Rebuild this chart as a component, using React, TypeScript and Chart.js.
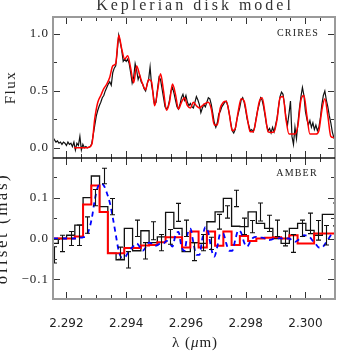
import React, { useEffect, useRef } from 'react';
import { Chart, registerables } from 'chart.js';

Chart.register(...registerables);

// ---------- axis limits / ticks ----------
const LAMBDA_MIN = 2.29155;
const LAMBDA_MAX = 2.30099;
const X_MAJOR = [2.292, 2.294, 2.296, 2.298, 2.3];
const X_MINOR_STEP = 0.0005;
const TOP_MIN = -0.09;
const TOP_MAX = 1.15;
const TOP_TICKS = [0, 0.25, 0.5, 0.75, 1.0];
const TOP_LABELS = ['0.0', '0.5', '1.0'];
const BOT_MIN = -0.148;
const BOT_MAX = 0.197;
const BOT_TICKS = [-0.1, -0.05, 0, 0.05, 0.1, 0.15];
const BOT_LABELS = ['\u22120.1', '0.0', '0.1'];

// ---------- CRIRES spectrum (observed, black) ----------
const OBS_START = 2.29155;
const OBS_STEP = 0.00005;
const CRIRES_OBS = [
  0.09, 0.07, 0.05, 0.06, 0.04, 0.05, 0.03, 0.05, 0.04, 0.02,
  0.05, 0.03, 0.04, 0.01, 0.05, -0.02, 0.04, 0.02, 0.10, -0.02,
  0.03, 0.00, 0.01, 0.00, 0.005, 0.01, 0.04, 0.12, 0.20, 0.28,
  0.33, 0.37, 0.40, 0.44, 0.46, 0.50, 0.53, 0.56, 0.58, 0.55,
  0.66, 0.70, 0.72, 0.85, 0.99, 0.93, 0.86, 0.76, 0.78, 0.76,
  0.78, 0.74, 0.66, 0.57, 0.62, 0.74, 0.68, 0.60, 0.64, 0.58,
  0.56, 0.52, 0.50, 0.56, 0.60, 0.71, 0.55, 0.48, 0.38, 0.40,
  0.52, 0.62, 0.60, 0.52, 0.44, 0.36, 0.34, 0.36, 0.42, 0.50,
  0.53, 0.48, 0.42, 0.36, 0.34, 0.38, 0.44, 0.47, 0.42, 0.46,
  0.40, 0.37, 0.39, 0.36, 0.35, 0.40, 0.45, 0.42, 0.38, 0.31,
  0.35, 0.38, 0.36, 0.40, 0.44, 0.43, 0.38, 0.30, 0.22, 0.18,
  0.22, 0.30, 0.32, 0.36, 0.38, 0.40, 0.41, 0.37, 0.30, 0.22,
  0.15, 0.13, 0.16, 0.24, 0.30, 0.35, 0.42, 0.44, 0.40, 0.33,
  0.25, 0.20, 0.15, 0.16, 0.14, 0.18, 0.26, 0.33, 0.38, 0.44,
  0.42, 0.36, 0.28, 0.20, 0.15, 0.17, 0.13, 0.18, 0.14, 0.20,
  0.26, 0.36, 0.45, 0.49, 0.47, 0.38, 0.26, 0.20, 0.30, 0.41,
  0.10, 0.03, 0.18, 0.08, 0.22, 0.35, 0.45, 0.53, 0.46, 0.32,
  0.25, 0.20, 0.24, 0.18, 0.22, 0.16, 0.20, 0.15, 0.18, 0.26,
  0.38, 0.46, 0.50, 0.42, 0.36, 0.28, 0.22, 0.14, 0.09, 0.12,
];

// ---------- CRIRES model (red) ----------
const MOD_START = 2.29225;
const MOD_STEP = 0.0001;
const CRIRES_MODEL = [
  0.0, 0.0, 0.0, 0.0, 0.0, 0.005, 0.03, 0.26, 0.40, 0.46,
  0.52, 0.56, 0.62, 0.72, 0.74, 0.99, 0.87, 0.78, 0.81, 0.70,
  0.57, 0.72, 0.64, 0.56, 0.51, 0.60, 0.58, 0.37, 0.50, 0.65,
  0.50, 0.33, 0.40, 0.56, 0.47, 0.34, 0.40, 0.44, 0.37, 0.35,
  0.40, 0.37, 0.35, 0.37, 0.39, 0.40, 0.34, 0.20, 0.20, 0.35,
  0.40, 0.41, 0.30, 0.15, 0.17, 0.32, 0.43, 0.41, 0.27, 0.14,
  0.14, 0.25, 0.40, 0.44, 0.30, 0.14, 0.135, 0.14, 0.25, 0.44,
  0.45, 0.25, 0.12, 0.12, 0.12, 0.20, 0.42, 0.46, 0.28, 0.12,
  0.12, 0.12, 0.15, 0.33, 0.43, 0.28, 0.10, 0.09,
];

// ---------- AMBER photocentre offsets (binned, black histogram) ----------
const BIN_START = 2.29159; // centre of first bin
const BIN_WIDTH = 0.0002762;
const AMBER_OBS = [
  -0.040, -0.012, 0.000, 0.008, 0.033, 0.100, 0.153, 0.078, -0.036, -0.052,
  0.025, -0.030, 0.019, -0.010, 0.004, 0.064, 0.025, -0.032, -0.010, -0.012,
  0.041, 0.065, 0.098, 0.030, 0.029, 0.065, 0.037, 0.025, 0.000, -0.012,
  0.025, 0.037, 0.020, 0.008, 0.059,
];
const AMBER_ERR = [
  0.020, 0.020, 0.017, 0.025, 0.020, 0.020, 0.019, 0.020, 0.015, 0.020,
  0.020, 0.020, 0.022, 0.020, 0.018, 0.022, 0.020, 0.022, 0.020, 0.015,
  0.018, 0.015, 0.020, 0.020, 0.015, 0.022, 0.020, 0.020, 0.018, 0.022,
  0.020, 0.025, 0.024, 0.024, 0.028,
];
// binned model (red steps)
const AMBER_MODEL = [
  0, 0, 0, 0, 0.005, 0.083, 0.13, 0.065, -0.036, -0.036,
  -0.023, -0.023, -0.017, -0.016, -0.009, 0.003, 0.003, -0.022, 0.017, -0.022,
  0.017, -0.018, 0.017, -0.016, 0.006, -0.006, 0.0, 0.002, 0.003, 0.0,
  0.008, -0.012, -0.012, 0.012, 0.012,
];
// full-resolution model (blue dashed)
const FIT_START = 2.29155;
const FIT_STEP = 0.0001;
const AMBER_FIT = [
  0, 0, 0, 0, 0, 0, 0, 0, 0.001, 0.002,
  0.003, 0.006, 0.02, 0.05, 0.095, 0.126, 0.134, 0.130, 0.112, 0.088,
  0.052, 0.010, -0.030, -0.046, -0.046, -0.036, -0.026, -0.018, -0.012, -0.020,
  -0.030, -0.022, -0.010, -0.012, -0.018, -0.016, -0.012, -0.012, -0.006, -0.010,
  -0.020, 0.008, 0.016, -0.020, -0.030, 0.010, 0.024, -0.010, -0.040, -0.040,
  0.000, 0.028, 0.015, -0.026, -0.044, -0.020, 0.012, 0.012, -0.012, -0.030,
  -0.030, -0.004, 0.020, 0.014, -0.010, -0.020, -0.008, 0.002, 0.004, 0.002,
  0.002, 0.000, -0.004, -0.003, 0.000, 0.000, 0.001, 0.000, 0.000, 0.000,
  -0.004, -0.008, -0.004, 0.002, 0.008, 0.007, 0.003, -0.006, -0.014, -0.022,
  -0.022, -0.014, -0.004, 0.008, 0.014, 0.016,
];

const SERIF = '"Liberation Serif", "Times New Roman", serif';
const SANS = '"DejaVu Sans", sans-serif';

const histPoints = (vals: number[]) => {
  const pts = vals.map((v, k) => ({ x: BIN_START + (k - 0.5) * BIN_WIDTH, y: v }));
  pts.push({ x: BIN_START + (vals.length - 0.5) * BIN_WIDTH, y: vals[vals.length - 1] });
  return pts;
};

const decoPlugin = {
  id: 'deco',
  afterDatasetsDraw(chart: any) {
    const ctx: CanvasRenderingContext2D = chart.ctx;
    const xs = chart.scales.x;
    const yt = chart.scales.yt;
    const yb = chart.scales.yb;
    const L = chart.chartArea.left;
    const R = chart.chartArea.right;
    const T = yt.top;
    const M = yt.bottom;
    const B = yb.bottom;

    // error bars
    ctx.save();
    ctx.beginPath();
    ctx.rect(L, M, R - L, B - M);
    ctx.clip();
    ctx.strokeStyle = '#111';
    ctx.lineWidth = 1.1;
    ctx.beginPath();
    AMBER_OBS.forEach((v, k) => {
      const px = Math.round(xs.getPixelForValue(BIN_START + k * BIN_WIDTH)) + 0.5;
      const y1 = yb.getPixelForValue(v - AMBER_ERR[k]);
      const y2 = yb.getPixelForValue(v + AMBER_ERR[k]);
      ctx.moveTo(px, y1); ctx.lineTo(px, y2);
      ctx.moveTo(px - 2.5, y1); ctx.lineTo(px + 2.5, y1);
      ctx.moveTo(px - 2.5, y2); ctx.lineTo(px + 2.5, y2);
    });
    ctx.stroke();
    ctx.restore();

    ctx.save();
    // ticks
    ctx.strokeStyle = '#333';
    ctx.lineWidth = 1;
    ctx.beginPath();
    const nMinor = Math.round((LAMBDA_MAX - 2.292) / X_MINOR_STEP);
    for (let k = 0; k <= nMinor; k++) {
      const lam = 2.292 + k * X_MINOR_STEP;
      const px = Math.round(xs.getPixelForValue(lam)) + 0.5;
      const major = k % 4 === 0;
      const len = major ? 7 : 4;
      ctx.moveTo(px, T); ctx.lineTo(px, T + len);
      ctx.moveTo(px, M); ctx.lineTo(px, M - len);
      ctx.moveTo(px, M); ctx.lineTo(px, M + len);
      ctx.moveTo(px, B); ctx.lineTo(px, B - len);
    }
    TOP_TICKS.forEach((v) => {
      const py = Math.round(yt.getPixelForValue(v)) + 0.5;
      const len = Math.abs(v * 2 - Math.round(v * 2)) < 1e-6 ? 7 : 4;
      ctx.moveTo(L, py); ctx.lineTo(L + len, py);
      ctx.moveTo(R, py); ctx.lineTo(R - len, py);
    });
    BOT_TICKS.forEach((v) => {
      const py = Math.round(yb.getPixelForValue(v)) + 0.5;
      const len = Math.abs(v * 10 - Math.round(v * 10)) < 1e-6 ? 7 : 4;
      ctx.moveTo(L, py); ctx.lineTo(L + len, py);
      ctx.moveTo(R, py); ctx.lineTo(R - len, py);
    });
    ctx.stroke();

    // frame
    ctx.strokeStyle = '#9a9a9a';
    ctx.lineWidth = 2;
    ctx.beginPath();
    ctx.moveTo(L, M); ctx.lineTo(L, T); ctx.lineTo(R, T); ctx.lineTo(R, B); ctx.lineTo(L, B); ctx.lineTo(L, M);
    ctx.stroke();
    ctx.strokeStyle = '#111';
    ctx.lineWidth = 1.5;
    ctx.beginPath();
    ctx.moveTo(L, M); ctx.lineTo(R, M);
    ctx.stroke();

    // tick labels
    ctx.fillStyle = '#222';
    ctx.font = `13px ${SERIF}`;
    (ctx as any).letterSpacing = '1px';
    ctx.textAlign = 'right';
    ctx.textBaseline = 'middle';
    [0, 0.5, 1.0].forEach((v, i) => ctx.fillText(TOP_LABELS[i], 49, yt.getPixelForValue(v)));
    [-0.1, 0, 0.1].forEach((v, i) => ctx.fillText(BOT_LABELS[i], 49, yb.getPixelForValue(v)));

    ctx.font = `12px ${SANS}`;
    (ctx as any).letterSpacing = '0px';
    ctx.textAlign = 'center';
    X_MAJOR.forEach((v) => ctx.fillText(v.toFixed(3), xs.getPixelForValue(v), 323.5));

    // axis titles
    ctx.font = `15px ${SERIF}`;
    (ctx as any).letterSpacing = '1.5px';
    ctx.save();
    ctx.translate(11, (T + M) / 2);
    ctx.rotate(-Math.PI / 2);
    ctx.fillText('Flux', 0, 0);
    ctx.restore();
    ctx.font = `17px ${SERIF}`;
    (ctx as any).letterSpacing = '2.5px';
    ctx.save();
    ctx.translate(3, (M + B) / 2);
    ctx.rotate(-Math.PI / 2);
    ctx.fillText('offset (mas)', 0, 0);
    ctx.restore();

    // x-axis title: λ (μm) with italic μ
    const cx = 195;
    const cy = 343;
    ctx.textAlign = 'left';
    (ctx as any).letterSpacing = '1px';
    ctx.font = `15px ${SERIF}`;
    const p1 = '\u03bb (';
    const p3 = 'm)';
    const w1 = ctx.measureText(p1).width;
    const w3 = ctx.measureText(p3).width;
    ctx.font = `italic 15px ${SERIF}`;
    const w2 = ctx.measureText('\u03bc').width;
    const x0 = cx - (w1 + w2 + w3) / 2;
    ctx.font = `15px ${SERIF}`;
    ctx.fillText(p1, x0, cy);
    ctx.font = `italic 15px ${SERIF}`;
    ctx.fillText('\u03bc', x0 + w1, cy);
    ctx.font = `15px ${SERIF}`;
    ctx.fillText(p3, x0 + w1 + w2, cy);

    // panel labels
    ctx.textAlign = 'center';
    ctx.font = `10px ${SERIF}`;
    (ctx as any).letterSpacing = '1.2px';
    ctx.fillText('CRIRES', 298, 33);
    ctx.fillText('AMBER', 297, 173);

    // title (partly cut at the top edge)
    ctx.font = `16px ${SERIF}`;
    (ctx as any).letterSpacing = '3px';
    ctx.textBaseline = 'alphabetic';
    ctx.fillStyle = '#333';
    ctx.fillText('Keplerian disk model', 195, 9.5);
    ctx.restore();
  },
};

export default function App() {
  const ref = useRef<HTMLCanvasElement>(null);
  useEffect(() => {
    if (!ref.current) return;
    const chart = new Chart(ref.current, {
      type: 'line',
      data: {
        datasets: [
          {
            label: 'AMBER full model',
            data: AMBER_FIT.map((v, i) => ({ x: FIT_START + i * FIT_STEP, y: v })),
            yAxisID: 'yb',
            borderColor: '#0000ff',
            borderWidth: 1.8,
            borderDash: [5, 4],
            cubicInterpolationMode: 'monotone',
            pointRadius: 0,
          },
          {
            label: 'AMBER binned model',
            data: histPoints(AMBER_MODEL),
            yAxisID: 'yb',
            borderColor: '#ff0000',
            borderWidth: 2,
            stepped: 'after',
            pointRadius: 0,
          },
          {
            label: 'AMBER',
            data: histPoints(AMBER_OBS),
            yAxisID: 'yb',
            borderColor: '#111111',
            borderWidth: 1.3,
            stepped: 'after',
            pointRadius: 0,
          },
          {
            label: 'CRIRES model',
            data: CRIRES_MODEL.map((v, i) => ({ x: MOD_START + i * MOD_STEP, y: v })),
            yAxisID: 'yt',
            borderColor: '#ff0000',
            borderWidth: 1.5,
            cubicInterpolationMode: 'monotone',
            pointRadius: 0,
          },
          {
            label: 'CRIRES',
            data: CRIRES_OBS.map((v, j) => ({ x: OBS_START + j * OBS_STEP, y: v })),
            yAxisID: 'yt',
            borderColor: '#111111',
            borderWidth: 1.2,
            tension: 0,
            pointRadius: 0,
          },
        ],
      },
      options: {
        responsive: false,
        devicePixelRatio: 1,
        animation: false,
        events: [],
        layout: { padding: { left: 53, right: 18, top: 17, bottom: 54 } },
        plugins: { legend: { display: false }, tooltip: { enabled: false }, title: { display: false } },
        scales: {
          x: { type: 'linear', min: LAMBDA_MIN, max: LAMBDA_MAX, display: false },
          yb: { type: 'linear', min: BOT_MIN, max: BOT_MAX, position: 'left', stack: 'panels', stackWeight: 1, display: false },
          yt: { type: 'linear', min: TOP_MIN, max: TOP_MAX, position: 'left', stack: 'panels', stackWeight: 1, display: false },
        },
      },
      plugins: [decoPlugin],
    } as any);
    return () => chart.destroy();
  }, []);
  return (
    <div style={{ position: 'fixed', left: 0, top: 0, width: 353, height: 353, background: '#fff' }}>
      <canvas ref={ref} width={353} height={353} style={{ display: 'block', width: 353, height: 353 }} />
    </div>
  );
}
